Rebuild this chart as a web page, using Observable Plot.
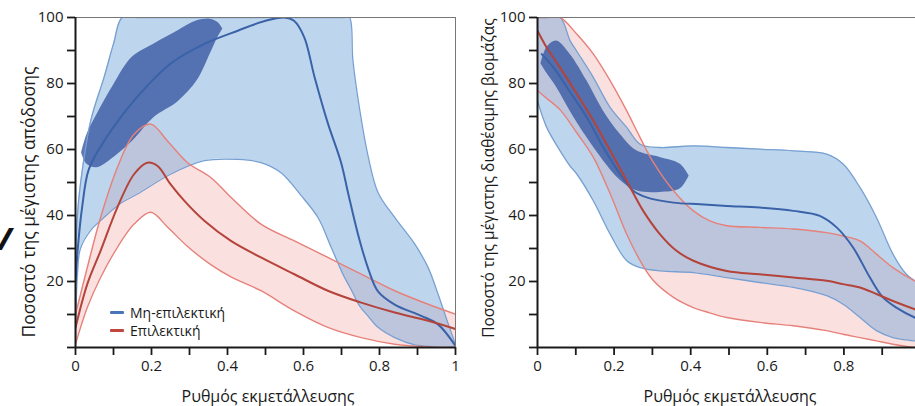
<!DOCTYPE html>
<html>
<head>
<meta charset="utf-8">
<script src="https://cdn.jsdelivr.net/npm/d3@7"></script>
<script src="https://cdn.jsdelivr.net/npm/@observablehq/plot@0.6"></script>
<style>
  html, body { margin: 0; padding: 0; background: #fff; }
  body { width: 915px; height: 406px; overflow: hidden; position: relative; font-family: "Open Sans", "Noto Sans", sans-serif; color: #1a1a1a; }
  .panel { position: absolute; top: 0; }
  .panel svg { max-width: none !important; }
  .ylab { position: absolute; white-space: nowrap; font-size: 15px; transform: translate(-50%, -50%) rotate(-90deg); }
  .xlab { position: absolute; white-space: nowrap; font-size: 16px; transform: translate(-50%, -50%); }
  .leg { position: absolute; left: 110px; font-size: 14px; display: flex; align-items: center; white-space: nowrap; }
  .sw { display: inline-block; width: 14px; height: 3px; margin-right: 6px; border-radius: 1px; }
</style>
</head>
<body>
<div id="left" class="panel" style="left:0px;width:460px"></div>
<div id="right" class="panel" style="left:460px;width:470px"></div>
<div class="ylab" style="left:28px;top:202px;font-size:17.5px">Ποσοστό της μέγιστης απόδοσης</div>
<div class="ylab" style="left:488px;top:178px;font-size:15.5px">Ποσοστό της μέγιστης διαθέσιμης βιομάζας</div>
<div class="xlab" style="left:268px;top:396px">Ρυθμός εκμετάλλευσης</div>
<div class="xlab" style="left:730px;top:396px">Ρυθμός εκμετάλλευσης</div>
<div class="leg" style="top:303px"><span class="sw" style="background:#4a74b8"></span>Μη-επιλεκτική</div>
<div class="leg" style="top:321px"><span class="sw" style="background:#c0463e"></span>Επιλεκτική</div>
<div style="position:absolute;left:-2px;top:218px;font-size:30px;font-weight:900;font-style:italic;color:#111">/</div>
<script>
// ---------- Axis ticks ----------
const xTicks = [0, 0.1, 0.2, 0.3, 0.4, 0.5, 0.6, 0.7, 0.8, 0.9, 1];
const xTickLabels = ["0", "", "0.2", "", "0.4", "", "0.6", "", "0.8", "", "1"];
const yTicks = [0, 10, 20, 30, 40, 50, 60, 70, 80, 90, 100];
const yTickLabels = ["", "", "20", "", "40", "", "60", "", "80", "", "100"];

// ---------- Left panel: yield ----------
// Non-selective (blue) envelope
const yieldNsBandX     = [0, 0.005, 0.013, 0.04, 0.075, 0.1, 0.123, 0.163, 0.25, 0.339, 0.427, 0.488, 0.54, 0.594, 0.638, 0.673, 0.708, 0.721, 0.73, 0.748, 0.77, 0.796, 0.84, 0.893, 0.928, 0.954, 0.981, 1];
const yieldNsBandUpper = [25, 40, 49.5, 68.7, 81.8, 92, 100, 100, 100, 100, 100, 100, 100, 100, 100, 100, 100, 100, 87, 72, 58, 47, 39.4, 31.3, 24.2, 16.2, 7.1, 1];
const yieldNsBandLower = [2, 22, 30, 35.5, 39.4, 42, 44, 46.5, 52.5, 56.6, 57, 56, 53, 46, 39.4, 30.3, 21.2, 18.5, 16.5, 12.5, 9.5, 6.1, 3, 0.8, 0.4, 0, 0, 0];
// Non-selective median
const yieldNsMedX = [0, 0.006, 0.018, 0.035, 0.075, 0.163, 0.25, 0.339, 0.427, 0.5, 0.55, 0.575, 0.602, 0.629, 0.664, 0.699, 0.717, 0.743, 0.77, 0.796, 0.84, 0.91, 0.954, 1];
const yieldNsMedY = [20, 30, 43, 54, 62.5, 76, 86, 92, 96, 99, 100, 99, 94, 82, 68, 56, 47, 34.5, 24, 17, 13, 9.6, 7, 0.5];
// Selective (red) envelope
const yieldSBandX     = [0, 0.031, 0.066, 0.11, 0.154, 0.198, 0.242, 0.295, 0.356, 0.409, 0.488, 0.576, 0.664, 0.752, 0.84, 0.928, 1];
const yieldSBandUpper = [10, 24.2, 39.4, 54.5, 64.6, 67.7, 62.6, 56, 51.5, 45.5, 37.4, 32.3, 27.3, 22.2, 17.2, 13.1, 10.1];
const yieldSBandLower = [1, 12.1, 21.2, 30.3, 37.4, 41, 36.5, 30.6, 25.1, 21.4, 17.2, 11.1, 6.1, 3, 1, 0.2, 0];
// Selective median
const yieldSMedX = [0, 0.031, 0.066, 0.11, 0.154, 0.189, 0.216, 0.25, 0.286, 0.339, 0.409, 0.488, 0.576, 0.664, 0.752, 0.84, 0.928, 1];
const yieldSMedY = [6, 19.2, 29.3, 42.4, 52.5, 56, 55, 49.5, 44.5, 38.4, 32.3, 27.3, 22.2, 17.2, 13.6, 10.6, 8.1, 5.6];
// Dark cloud (non-selective)
const yieldCloudX     = [0.016, 0.03, 0.057, 0.1, 0.15, 0.207, 0.27, 0.32, 0.355, 0.375, 0.388];
const yieldCloudLower = [59, 55.5, 54.5, 57.5, 62.5, 69.7, 74.5, 80.8, 89, 94, 96.5];
const yieldCloudUpper = [59, 64.5, 70.7, 79.5, 88, 92, 96, 99, 99.5, 98.5, 96.5];

// ---------- Right panel: biomass ----------
const bioNsBandX     = [0, 0.024, 0.059, 0.085, 0.103, 0.146, 0.19, 0.233, 0.268, 0.32, 0.407, 0.494, 0.58, 0.668, 0.755, 0.798, 0.842, 0.885, 0.928, 0.963, 0.985, 1];
const bioNsBandUpper = [100, 100, 100, 93, 89.7, 81.8, 72.7, 66.7, 61.6, 60.6, 61.1, 60.6, 60.1, 59.6, 58.6, 55.6, 48.5, 39.4, 28.3, 22.2, 20.2, 19];
const bioNsBandLower = [74.7, 66.7, 59.6, 55, 52.5, 44.4, 34.3, 26.3, 24.2, 23.2, 22.7, 21.2, 19.7, 18.2, 15.7, 13.1, 9.1, 5.1, 3, 2.3, 2, 2];
const bioNsMedX = [0.011, 0.042, 0.077, 0.129, 0.172, 0.216, 0.25, 0.285, 0.355, 0.424, 0.494, 0.58, 0.668, 0.737, 0.781, 0.824, 0.868, 0.902, 0.937, 0.985, 1];
const bioNsMedY = [88.9, 84.8, 78.8, 69.7, 60.6, 52.5, 47.5, 45.5, 43.9, 43.4, 42.9, 42.4, 41.4, 39.9, 36.4, 30.3, 21.2, 15.2, 12.1, 9.1, 8.5];
const bioSBandX     = [0, 0.024, 0.059, 0.103, 0.146, 0.19, 0.233, 0.268, 0.303, 0.355, 0.407, 0.45, 0.494, 0.58, 0.668, 0.755, 0.798, 0.842, 0.885, 0.928, 0.985, 1];
const bioSBandUpper = [100, 100, 100, 94.9, 88.9, 80.8, 71.7, 63.6, 56, 47.5, 41.4, 38.4, 36.9, 36.4, 35.9, 34.8, 33.8, 32.3, 28.3, 24.2, 20.2, 19.5];
const bioSBandLower = [77.8, 75.5, 72, 65, 57.6, 46.5, 34.3, 26.3, 20.2, 15.2, 12.1, 10.5, 9.1, 7.6, 6.6, 5.1, 4, 3, 2, 1, 0, 0];
const bioSMedX = [0, 0.024, 0.059, 0.103, 0.146, 0.19, 0.233, 0.276, 0.32, 0.363, 0.407, 0.494, 0.58, 0.668, 0.755, 0.798, 0.842, 0.885, 0.928, 0.985, 1];
const bioSMedY = [96, 90.9, 84.8, 76.8, 68.7, 59.6, 50.5, 41.4, 34.3, 29.3, 26.3, 23.2, 22.2, 21.2, 20.2, 19.2, 18.2, 16.2, 14.1, 11.6, 11];
const bioCloudX     = [0.009, 0.025, 0.05, 0.085, 0.129, 0.172, 0.216, 0.259, 0.32, 0.372, 0.396];
const bioCloudUpper = [86, 91, 92.9, 88.9, 80.8, 71.7, 64.6, 59.6, 57.6, 55.6, 52];
const bioCloudLower = [86, 83, 78.8, 71.7, 63.6, 56.6, 50.7, 47.5, 47, 48, 52];

// ---------- Colours ----------
const C = {
  blueFill: "#6fa3d6", blueEdge: "#77a0d2", blueMed: "#3a62a8", cloud: "#3d5ca3",
  pinkFill: "#f4a8a8", pinkEdge: "#e6817a", redMed: "#b4433a", axis: "#1a1a1a", frame: "#777"
};

const band = (xs, lo, hi) => xs.map((x, i) => ({x, lo: lo[i], hi: hi[i]}));
const pts = (xs, ys) => xs.map((x, i) => ({x, y: ys[i]}));
const xLab = new Map(xTicks.map((t, i) => [t, xTickLabels[i]]));
const yLab = new Map(yTicks.map((t, i) => [t, yTickLabels[i]]));

function panel({width, marginLeft, marginRight, ns, nsMed, s, sMed, cloud, rightFrame}) {
  const nsB = band(...ns), sB = band(...s), cl = band(...cloud);
  const marks = [
    Plot.areaY(sB, {x: "x", y1: "lo", y2: "hi", curve: "catmull-rom", fill: C.pinkFill, fillOpacity: 0.36, clip: true}),
    Plot.areaY(nsB, {x: "x", y1: "lo", y2: "hi", curve: "catmull-rom", fill: C.blueFill, fillOpacity: 0.45, clip: true}),
    Plot.areaY(cl, {x: "x", y1: "lo", y2: "hi", curve: "catmull-rom", fill: C.cloud, fillOpacity: 0.82, clip: true}),
    Plot.line(nsB, {x: "x", y: "hi", curve: "catmull-rom", stroke: C.blueEdge, strokeWidth: 1.3, clip: true}),
    Plot.line(nsB, {x: "x", y: "lo", curve: "catmull-rom", stroke: C.blueEdge, strokeWidth: 1.3, clip: true}),
    Plot.line(sB, {x: "x", y: "hi", curve: "catmull-rom", stroke: C.pinkEdge, strokeWidth: 1.4, clip: true}),
    Plot.line(sB, {x: "x", y: "lo", curve: "catmull-rom", stroke: C.pinkEdge, strokeWidth: 1.4, clip: true}),
    Plot.line(pts(...nsMed), {x: "x", y: "y", curve: "catmull-rom", stroke: C.blueMed, strokeWidth: 2, clip: true}),
    Plot.line(pts(...sMed), {x: "x", y: "y", curve: "catmull-rom", stroke: C.redMed, strokeWidth: 2, clip: true}),
    Plot.ruleY([100], {stroke: C.frame, strokeWidth: 1}),
    Plot.axisX({ticks: xTicks, tickFormat: d => xLab.get(d), tickSize: 8, tickPadding: 5, strokeWidth: 1.8, stroke: C.axis, label: null}),
    Plot.axisY({ticks: yTicks, tickFormat: d => yLab.get(d), tickSize: 8, tickPadding: 4, strokeWidth: 1.8, stroke: C.axis, label: null}),
    Plot.ruleX([0], {stroke: C.axis, strokeWidth: 2}),
    Plot.ruleY([0], {stroke: C.axis, strokeWidth: 2})
  ];
  if (rightFrame) marks.splice(9, 0, Plot.ruleX([1], {stroke: C.frame, strokeWidth: 1}));
  return Plot.plot({
    width, height: 406,
    marginTop: 17, marginBottom: 59, marginLeft, marginRight,
    x: {domain: [0, 1]},
    y: {domain: [0, 100]},
    style: {fontFamily: "'Open Sans', 'Noto Sans', sans-serif", fontSize: "15px", color: C.axis, background: "transparent", overflow: "visible", maxWidth: "none"},
    marks
  });
}

document.getElementById("left").append(panel({
  width: 460, marginLeft: 75, marginRight: 5,
  ns: [yieldNsBandX, yieldNsBandLower, yieldNsBandUpper],
  nsMed: [yieldNsMedX, yieldNsMedY],
  s: [yieldSBandX, yieldSBandLower, yieldSBandUpper],
  sMed: [yieldSMedX, yieldSMedY],
  cloud: [yieldCloudX, yieldCloudLower, yieldCloudUpper],
  rightFrame: true
}));
document.getElementById("right").append(panel({
  width: 470, marginLeft: 77, marginRight: 10,
  ns: [bioNsBandX, bioNsBandLower, bioNsBandUpper],
  nsMed: [bioNsMedX, bioNsMedY],
  s: [bioSBandX, bioSBandLower, bioSBandUpper],
  sMed: [bioSMedX, bioSMedY],
  cloud: [bioCloudX, bioCloudLower, bioCloudUpper],
  rightFrame: false
}));
</script>
</body>
</html>
